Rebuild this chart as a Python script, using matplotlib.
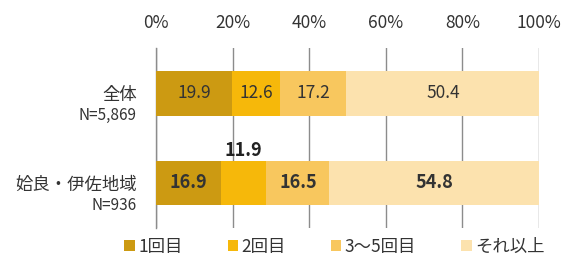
import matplotlib
matplotlib.use("Agg")
import matplotlib.pyplot as plt
from matplotlib.patches import Patch

plt.rcParams['font.family'] = ['Noto Sans CJK JP', 'DejaVu Sans']

# data
groups = ["全体", "姶良・伊佐地域"]
group_n = ["N=5,869", "N=936"]
series = ["1回目", "2回目", "3～5回目", "それ以上"]
values = [
    [19.9, 16.9],
    [12.6, 11.9],
    [17.2, 16.5],
    [50.4, 54.8],
]
colors = ["#CC9A12", "#F6B80A", "#F8C75E", "#FCE2AE"]
ticks = [0, 20, 40, 60, 80, 100]

fig = plt.figure(figsize=(5.65, 2.64), dpi=100)
ax = fig.add_axes([156/565, 1 - 228/264, 383/565, 180/264])

ypos = [0, 1]
left = [0, 0]
for i, (name, vals) in enumerate(zip(series, values)):
    ax.barh(ypos, vals, left=left, height=0.5, color=colors[i], zorder=3)
    for j, v in enumerate(vals):
        bold = (j == 1)
        cx = left[j] + v / 2
        if v < 12 and bold:
            ax.text(cx, ypos[j] - 0.36, f"{v}", ha="center", va="center",
                    fontsize=13, fontweight="bold", color="#222222", zorder=4)
        else:
            ax.text(cx, ypos[j], f"{v}", ha="center", va="center",
                    fontsize=13 if bold else 12.5,
                    fontweight="bold" if bold else "normal",
                    color="#333333", zorder=4)
    left = [l + v for l, v in zip(left, vals)]

ax.set_xlim(0, 100)
ax.set_ylim(1.503, -0.508)
ax.set_xticks(ticks)
ax.set_xticklabels([f"{t}%" for t in ticks], fontsize=12.5, color="#333333")
ax.tick_params(axis="x", which="both", labeltop=True, labelbottom=False,
               top=False, bottom=False, pad=8)
ax.set_yticks([])
ax.grid(axis="x", color="#8c8c8c", linewidth=1.0, zorder=0)
for s in ["top", "right", "bottom"]:
    ax.spines[s].set_visible(False)
ax.spines["left"].set_color("#8c8c8c")
ax.spines["left"].set_linewidth(1.0)

for j, (g, n) in enumerate(zip(groups, group_n)):
    ax.text(-5, ypos[j] + 0.02, g, ha="right", va="center", fontsize=12.5,
            color="#333333", clip_on=False)
    ax.text(-5, ypos[j] + 0.25, n, ha="right", va="center", fontsize=11,
            color="#333333", clip_on=False)

handles = [Patch(facecolor=c, edgecolor="none") for c in colors]
fig.legend(handles, series, loc="center", bbox_to_anchor=(0.592, 0.065), ncol=4,
           frameon=False, fontsize=12.5, handlelength=0.6, handleheight=0.6,
           handletextpad=0.2, columnspacing=2.6, labelcolor="#333333")

fig.savefig("out.png", dpi=100)
